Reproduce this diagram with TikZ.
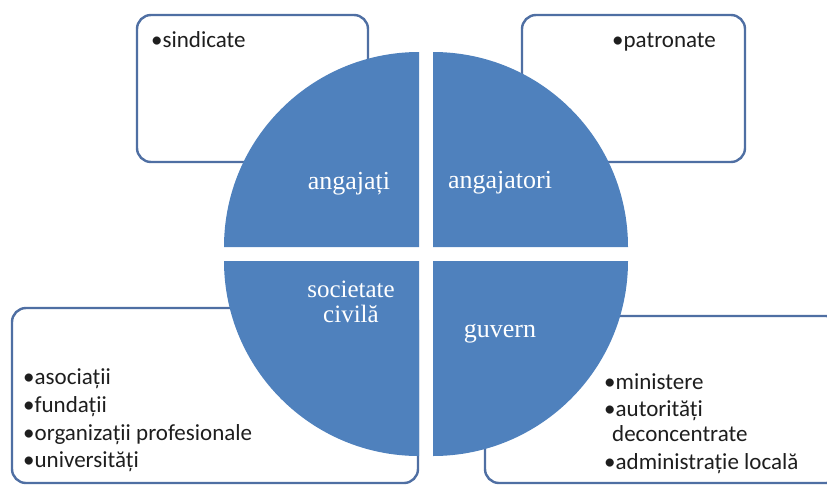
\documentclass[tikz,border=0pt]{standalone}
\usepackage{fontspec}
\setmainfont{Liberation Serif}
\newfontfamily\boxfont{Carlito}
\definecolor{quadblue}{HTML}{4F81BD}
\definecolor{boxline}{HTML}{4F6FA3}
\definecolor{boxtext}{HTML}{1E1E1E}
\begin{document}
\begin{tikzpicture}[x=1pt,y=-1pt,
  infobox/.style={draw=boxline,line width=2.4pt,fill=white,rounded corners=14pt},
  quad/.style={fill=quadblue},
  qlabel/.style={text=white,font=\fontsize{26}{23}\selectfont,anchor=base,inner sep=0pt,align=center},
  btext/.style={text=boxtext,font=\boxfont\fontsize{23}{26}\selectfont,anchor=base west,inner sep=0pt}]
\useasboundingbox (0,0) rectangle (827,485);
% boxes
\draw[infobox] (137,15) rectangle (368,162);
\draw[infobox] (522,15) rectangle (745,162);
\draw[infobox] (12,308) rectangle (418,483);
\draw[infobox] (485,316) rectangle (840,483);
% quadrants
\fill[quad] (419,247) -- ++(-195,0) arc[start angle=180,end angle=270,radius=195] -- cycle;
\fill[quad] (433,247) -- ++(0,-195) arc[start angle=270,end angle=360,radius=195] -- cycle;
\fill[quad] (419,261) -- ++(-195,0) arc[start angle=180,end angle=90,radius=195] -- cycle;
\fill[quad] (433,261) -- ++(195,0) arc[start angle=0,end angle=90,radius=195] -- cycle;
% quadrant labels
\node[qlabel] (angajati) at (349,189) {angajați};
\node[qlabel] (angajatori) at (500,188) {angajatori};
\node[qlabel,font=\fontsize{25}{25}\selectfont] (societate) at (351,322) {societate\\civilă};
\node[qlabel] (guvern) at (500,337) {guvern};
% box texts
\node[btext] (sindicate) at (151,47) {•sindicate};
\node[btext] (patronate) at (612,47) {•patronate};
\node[btext] (asociatii) at (23,384) {•asociații};
\node[btext] (fundatii) at (23,412) {•fundații};
\node[btext] (organizatii) at (23,440) {•organizații profesionale};
\node[btext] (universitati) at (23,467) {•universități};
\node[btext] (ministere) at (604,389) {•ministere};
\node[btext] (autoritati) at (604,416) {•autorități};
\node[btext] (deconcentrate) at (612,441) {deconcentrate};
\node[btext] (administratie) at (604,469) {•administrație locală};
\end{tikzpicture}
\end{document}
